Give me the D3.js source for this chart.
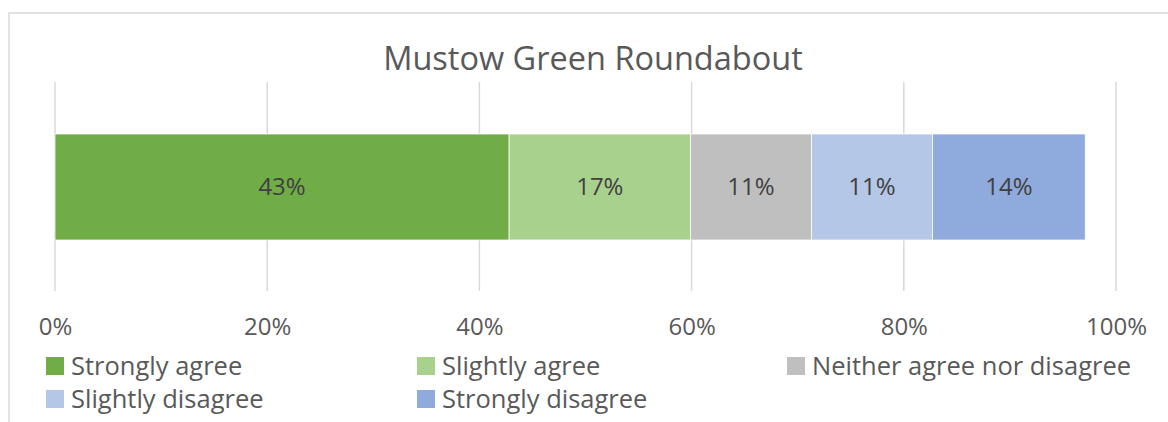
<!DOCTYPE html>
<html>
<head>
<meta charset="utf-8">
<script src="https://cdn.jsdelivr.net/npm/d3@7"></script>
<style>
  body { margin: 0; background: #fff; }
  text { font-family: "Open Sans", sans-serif; }
</style>
</head>
<body>
<div id="chart"></div>
<script>
// data
const title = 'Mustow Green Roundabout';
const categories = ['Strongly agree', 'Slightly agree', 'Neither agree nor disagree', 'Slightly disagree', 'Strongly disagree'];
const values = [42.8, 17.1, 11.4, 11.4, 14.4];
const colors = ['#70ad47', '#a9d18e', '#bfbfbf', '#b4c7e7', '#8faadc'];
const ticks = [0, 20, 40, 60, 80, 100];

const width = 1168, height = 422;
const dims = {left: 55, right: 1116, barTop: 134, barBottom: 240, gridTop: 82, gridBottom: 291};

const svg = d3.select('#chart')
              .append('svg')
              .attr('width', width)
              .attr('height', height);

// chart area border (right and bottom edges run off the picture)
svg.append('rect')
    .attr('x', 9)
    .attr('y', 13)
    .attr('width', 1180)
    .attr('height', 440)
    .attr('fill', '#fff')
    .attr('stroke', '#d9d9d9')
    .attr('stroke-width', 1.5);

svg.append('text')
    .text(title)
    .attr('x', 593)
    .attr('y', 70)
    .attr('text-anchor', 'middle')
    .attr('fill', '#595959')
    .style('font-size', '32.5px');

const x = d3.scaleLinear().domain([0, 100]).range([dims.left, dims.right]);

// gridlines
svg.append('g')
    .selectAll('line')
    .data(ticks)
    .enter()
    .append('line')
    .attr('x1', d => x(d))
    .attr('x2', d => x(d))
    .attr('y1', dims.gridTop)
    .attr('y2', dims.gridBottom)
    .attr('stroke', '#d9d9d9')
    .attr('stroke-width', 1.5);

// stacked segments
let acc = 0;
const segs = values.map((v, i) => {
    const s = {start: acc, end: acc + v, value: v, color: colors[i]};
    acc += v;
    return s;
});

svg.append('g')
    .selectAll('rect')
    .data(segs)
    .enter()
    .append('rect')
    .attr('x', d => x(d.start))
    .attr('width', d => x(d.end) - x(d.start))
    .attr('y', dims.barTop)
    .attr('height', dims.barBottom - dims.barTop)
    .attr('fill', d => d.color)
    .attr('stroke', '#fff')
    .attr('stroke-width', 0.75);

svg.append('g')
    .selectAll('text')
    .data(segs)
    .enter()
    .append('text')
    .text(d => Math.round(d.value) + '%')
    .attr('x', d => (x(d.start) + x(d.end)) / 2)
    .attr('y', (dims.barTop + dims.barBottom) / 2)
    .attr('dy', '0.35em')
    .attr('text-anchor', 'middle')
    .attr('fill', '#404040')
    .style('font-size', '24px');

// axis labels
const axis = svg.append('g')
    .attr('transform', `translate(0, ${dims.gridBottom + 24})`)
    .call(d3.axisBottom(x).tickValues(ticks).tickSize(0).tickFormat(d => d + '%'));
axis.select('.domain').remove();
axis.selectAll('text')
    .attr('fill', '#595959')
    .style('font-family', '"Open Sans", sans-serif')
    .style('font-size', '24px');

// legend
const legendCols = [46, 417, 787];
const legendRows = [366, 399];
const legend = svg.append('g')
    .selectAll('g')
    .data(categories)
    .enter()
    .append('g')
    .attr('transform', (d, i) => `translate(${legendCols[i % 3]}, ${legendRows[Math.floor(i / 3)]})`);

legend.append('rect')
    .attr('x', 0)
    .attr('y', -9)
    .attr('width', 18)
    .attr('height', 18)
    .attr('fill', (d, i) => colors[i]);

legend.append('text')
    .text(d => d)
    .attr('x', 25)
    .attr('dy', '0.35em')
    .attr('fill', '#595959')
    .style('font-size', '25.5px');
</script>
</body>
</html>
